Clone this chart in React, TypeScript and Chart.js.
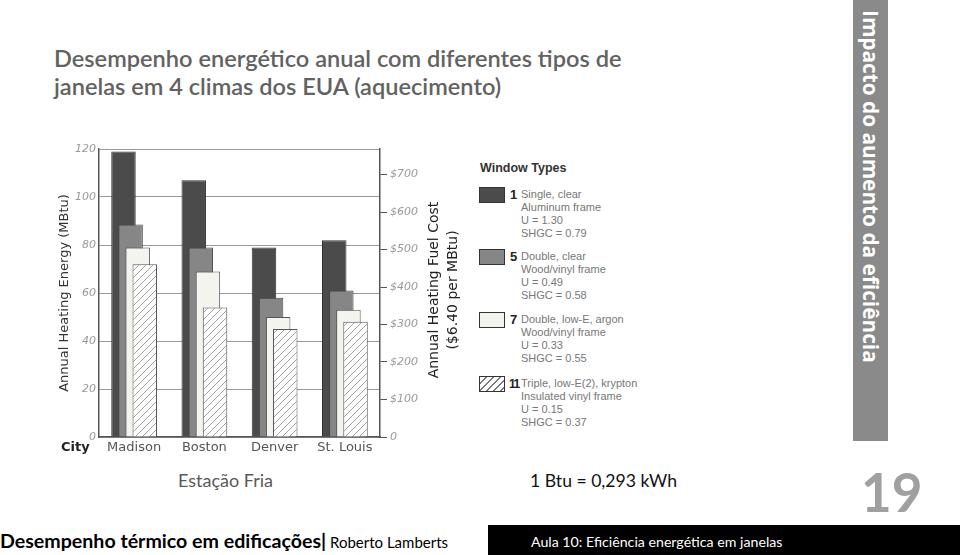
import React, { useEffect, useRef } from "react";
import { Chart, registerables } from "chart.js";

Chart.register(...registerables);

const cities = ["Madison", "Boston", "Denver", "St. Louis"];
const type1 = [119, 107, 79, 82];
const type5 = [88.5, 79, 58, 61];
const type7 = [79, 69, 50, 53];
const type11 = [72, 54, 45, 48];

const windowIds = ["1", "5", "7", "11"];
const windowLines = [
  ["Single, clear", "Aluminum frame", "U = 1.30", "SHGC = 0.79"],
  ["Double, clear", "Wood/vinyl frame", "U = 0.49", "SHGC = 0.58"],
  ["Double, low-E, argon", "Wood/vinyl frame", "U = 0.33", "SHGC = 0.55"],
  ["Triple, low-E(2), krypton", "Insulated vinyl frame", "U = 0.15", "SHGC = 0.37"],
];

const leftTicksMax = 120;
const costPerMBtu = 6.4;

function makeHatch(): CanvasPattern | string {
  const c = document.createElement("canvas");
  c.width = 7;
  c.height = 7;
  const x = c.getContext("2d");
  if (!x) return "#fff";
  x.fillStyle = "#ffffff";
  x.fillRect(0, 0, 7, 7);
  x.strokeStyle = "#888";
  x.lineWidth = 0.8;
  x.beginPath();
  x.moveTo(-1, 8);
  x.lineTo(8, -1);
  x.moveTo(-1, 1);
  x.lineTo(1, -1);
  x.moveTo(6, 8);
  x.lineTo(8, 6);
  x.stroke();
  const p = x.createPattern(c, "repeat");
  return p || "#fff";
}

function swatchStyle(i: number): React.CSSProperties {
  const base: React.CSSProperties = {
    position: "absolute",
    left: 0,
    top: 0,
    width: 24,
    height: 14,
    border: "1px solid #333",
  };
  if (i === 0) return { ...base, background: "#4b4b4b" };
  if (i === 1) return { ...base, background: "#868686" };
  if (i === 2) return { ...base, background: "#f4f4ef" };
  return {
    ...base,
    background:
      "repeating-linear-gradient(135deg, #ffffff 0px, #ffffff 4px, #7a7a7a 4px, #7a7a7a 5px)",
  };
}

export default function App() {
  const ref = useRef<HTMLCanvasElement | null>(null);

  useEffect(() => {
    if (!ref.current) return;
    const hatch = makeHatch();

    const drawOrder = {
      id: "drawOrder",
      beforeDatasetsDraw(chart: any) {
        for (let i = 0; i < chart.data.datasets.length; i++) {
          const meta = chart.getDatasetMeta(i);
          if (meta.visible !== false) meta.controller.draw();
        }
        return false;
      },
    };

    const extraText = {
      id: "extraText",
      afterDraw(chart: any) {
        const ctx = chart.ctx;
        const a = chart.chartArea;
        ctx.save();
        ctx.fillStyle = "#222";
        ctx.font = "14px 'DejaVu Sans'";
        ctx.textAlign = "center";
        ctx.textBaseline = "middle";
        const cy = (a.top + a.bottom) / 2 - 3;
        ctx.save();
        ctx.translate(a.right + 54, cy);
        ctx.rotate(-Math.PI / 2);
        ctx.fillText("Annual Heating Fuel Cost", 0, 0);
        ctx.restore();
        ctx.save();
        ctx.translate(a.right + 73, cy);
        ctx.rotate(-Math.PI / 2);
        ctx.fillText("($6.40 per MBtu)", 0, 0);
        ctx.restore();
        ctx.font = "bold 13px 'DejaVu Sans'";
        ctx.textAlign = "left";
        ctx.fillStyle = "#222";
        ctx.fillText("City", 11, a.bottom + 11);
        ctx.restore();
      },
    };

    const chart = new Chart(ref.current, {
      type: "bar",
      data: {
        labels: cities,
        datasets: [
          { label: "1", data: type1, backgroundColor: "#4b4b4b", borderColor: "#333", borderWidth: 1 },
          { label: "5", data: type5, backgroundColor: "#868686", borderColor: "#444", borderWidth: 1 },
          { label: "7", data: type7, backgroundColor: "#f4f4ef", borderColor: "#555", borderWidth: 1 },
          { label: "11", data: type11, backgroundColor: hatch as any, borderColor: "#555", borderWidth: 1 },
        ],
      },
      options: {
        animation: false,
        responsive: false,
        maintainAspectRatio: false,
        layout: { padding: { top: 19, left: 0, right: 0, bottom: 0 } },
        datasets: {
          bar: {
            categoryPercentage: 0.404,
            barPercentage: 3.45,
          },
        },
        plugins: {
          legend: { display: false },
          tooltip: { enabled: false },
        },
        scales: {
          x: {
            grid: { display: false, drawTicks: false },
            border: { display: true, color: "#555", width: 1.5 },
            ticks: {
              color: "#555",
              font: { family: "'DejaVu Sans'", size: 13 },
              padding: 3,
              maxRotation: 0,
            },
            afterFit: (s: any) => {
              s.height = 23;
            },
          },
          y: {
            position: "left",
            min: 0,
            max: leftTicksMax,
            ticks: {
              stepSize: 20,
              color: "#999",
              font: { family: "'DejaVu Sans'", size: 11, style: "italic" },
              padding: 3,
            },
            grid: { color: "#999", lineWidth: 1, drawTicks: false },
            border: { display: true, color: "#555", width: 1.5 },
            title: {
              display: true,
              text: "Annual Heating Energy (MBtu)",
              color: "#333",
              font: { family: "'DejaVu Sans'", size: 13 },
              padding: { top: 7, bottom: 0 },
            },
            afterFit: (s: any) => {
              s.width = 49;
            },
          },
          y2: {
            position: "right",
            min: 0,
            max: leftTicksMax * costPerMBtu,
            ticks: {
              stepSize: 100,
              includeBounds: false,
              color: "#999",
              font: { family: "'DejaVu Sans'", size: 11, style: "italic" },
              padding: 3,
              callback: (v: any) => (Number(v) === 0 ? "0" : "$" + v),
            },
            grid: { drawOnChartArea: false, drawTicks: true, tickLength: 7, color: "#555" },
            border: { display: true, color: "#555", width: 1.5 },
            afterFit: (s: any) => {
              s.width = 90;
            },
          },
        },
      } as any,
      plugins: [drawOrder, extraText],
    });
    return () => chart.destroy();
  }, []);

  const slideFont = "Lato, 'Open Sans', sans-serif";

  return (
    <div
      style={{
        position: "absolute",
        left: 0,
        top: 0,
        width: 960,
        height: 555,
        overflow: "hidden",
        background: "#fff",
        fontFamily: slideFont,
      }}
    >
      <div
        style={{
          position: "absolute",
          left: 54,
          top: 44,
          width: 680,
          fontSize: 23.6,
          lineHeight: "28px",
          color: "#626262",
          fontWeight: 600,
        }}
      >
        Desempenho energético anual com diferentes tipos de
        <br />
        janelas em 4 climas dos EUA (aquecimento)
      </div>

      <canvas
        ref={ref}
        width={420}
        height={330}
        style={{ position: "absolute", left: 50, top: 130, width: 420, height: 330 }}
      />

      <div
        style={{
          position: "absolute",
          left: 480,
          top: 159,
          fontFamily: "'Liberation Sans', Arial, sans-serif",
          fontSize: 12.5,
          fontWeight: "bold",
          color: "#333",
          lineHeight: "18px",
          whiteSpace: "nowrap",
        }}
      >
        Window Types
      </div>
      {windowIds.map((id, i) => (
        <div
          key={id}
          style={{
            position: "absolute",
            left: 479,
            top: [187, 249, 312, 376][i],
            width: 170,
            height: 60,
          }}
        >
          <div style={swatchStyle(i)} />
          <div
            style={{
              position: "absolute",
              left: id.length > 1 ? 30 : 31,
              top: 1,
              fontSize: id.length > 1 ? 12 : 13,
              fontWeight: "bold",
              color: "#222",
              lineHeight: "14px",
              letterSpacing: id.length > 1 ? "-1.5px" : "0px",
              fontFamily: "'Liberation Sans', Arial, sans-serif",
            }}
          >
            {id}
          </div>
          <div
            style={{
              position: "absolute",
              left: 42,
              top: 1,
              fontSize: 11,
              color: "#777",
              lineHeight: "13px",
              whiteSpace: "nowrap",
              fontFamily: "'Liberation Sans', Arial, sans-serif",
            }}
          >
            {windowLines[i].map((l) => (
              <div key={l}>{l}</div>
            ))}
          </div>
        </div>
      ))}

      <div
        style={{
          position: "absolute",
          left: 853,
          top: 0,
          width: 35,
          height: 441,
          background: "#8a8a8a",
        }}
      >
        <div
          style={{
            position: "absolute",
            left: 35,
            top: 10,
            transformOrigin: "0 0",
            transform: "rotate(90deg)",
            whiteSpace: "nowrap",
            color: "#fff",
            fontWeight: "bold",
            fontSize: 20.8,
            lineHeight: "35px",
            fontFamily: "'Open Sans', sans-serif",
          }}
        >
          Impacto do aumento da eficiência
        </div>
      </div>

      <div style={{ position: "absolute", left: 178, top: 468, fontSize: 18, color: "#595959", lineHeight: "24px" }}>
        Estação Fria
      </div>
      <div style={{ position: "absolute", left: 530, top: 469, fontSize: 17.6, color: "#111", lineHeight: "24px" }}>
        1 Btu = 0,293 kWh
      </div>
      <div
        style={{
          position: "absolute",
          left: 861,
          top: 462,
          fontSize: 53,
          color: "#a0a0a0",
          lineHeight: "60px",
          fontWeight: "bold",
        }}
      >
        19
      </div>

      <div style={{ position: "absolute", left: 0, top: 528, whiteSpace: "nowrap", lineHeight: "26px", color: "#000" }}>
        <span style={{ fontSize: 19.6, fontWeight: "bold" }}>Desempenho térmico em edificações|</span>
        <span style={{ fontSize: 15 }}> Roberto Lamberts</span>
      </div>
      <div
        style={{
          position: "absolute",
          left: 488,
          top: 525,
          width: 472,
          height: 30,
          background: "#000",
        }}
      >
        <div style={{ position: "absolute", left: 43, top: 7, fontSize: 14.2, color: "#fff", lineHeight: "20px", whiteSpace: "nowrap" }}>
          Aula 10: Eficiência energética em janelas
        </div>
      </div>
    </div>
  );
}
